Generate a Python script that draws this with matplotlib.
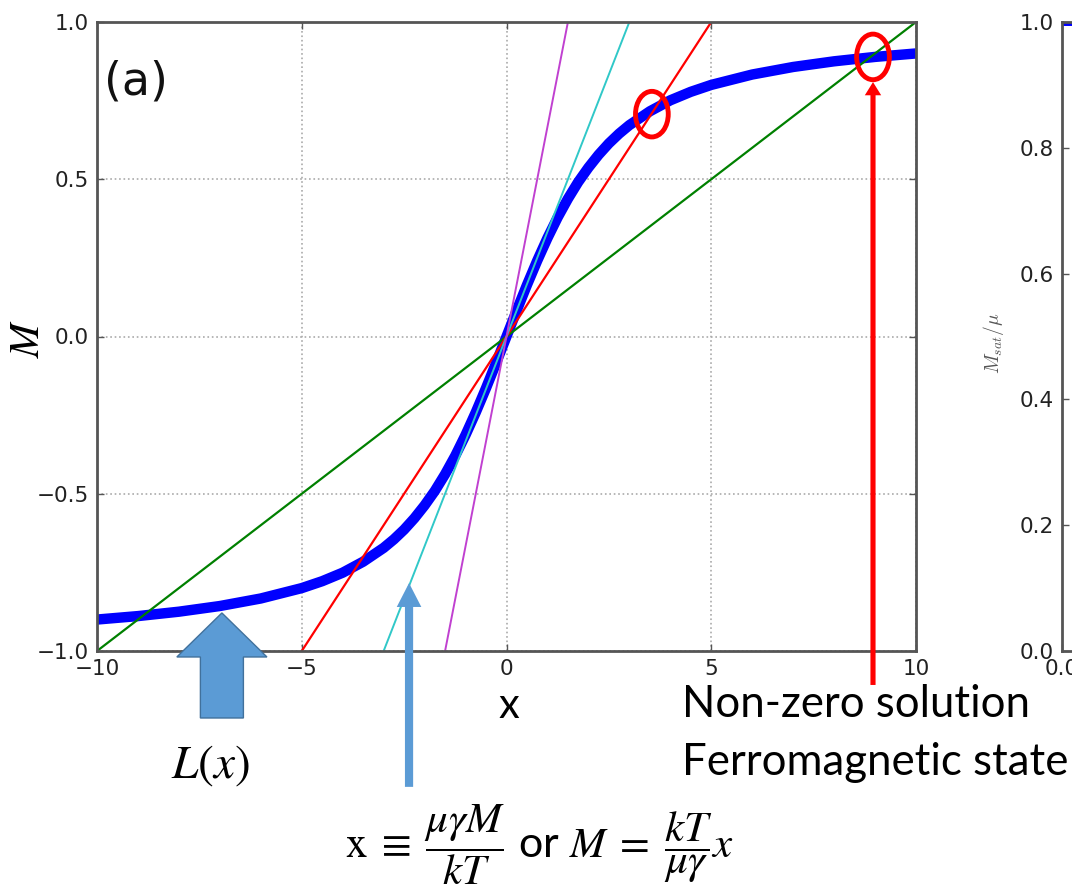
import matplotlib
matplotlib.use("Agg")
import matplotlib.pyplot as plt
from matplotlib.patches import Ellipse, FancyArrow
from matplotlib.ticker import FormatStrFormatter

# Langevin curve
x_curve = [-10, -9, -8, -7, -6, -5, -4.5, -4, -3.5, -3, -2.75, -2.5, -2.25, -2,
           -1.75, -1.5, -1.25, -1, -0.75, -0.5, -0.25, 0,
           0.25, 0.5, 0.75, 1, 1.25, 1.5, 1.75, 2, 2.25, 2.5, 2.75, 3, 3.5, 4,
           4.5, 5, 6, 7, 8, 9, 10]
L_curve = [-0.900, -0.889, -0.875, -0.857, -0.833, -0.800, -0.778, -0.751, -0.716,
           -0.672, -0.645, -0.614, -0.578, -0.537, -0.491, -0.438, -0.379, -0.313,
           -0.241, -0.164, -0.083, 0.0,
           0.083, 0.164, 0.241, 0.313, 0.379, 0.438, 0.491, 0.537, 0.578, 0.614,
           0.645, 0.672, 0.716, 0.751, 0.778, 0.800, 0.833, 0.857, 0.875, 0.889, 0.900]

# straight lines M = (kT/μγ) x for several temperatures
green_x = [-10, 10]
green_y = [-1, 1]
red_x = [-5, 5]
red_y = [-1, 1]
cyan_x = [-3, 3]
cyan_y = [-1, 1]
magenta_x = [-1.5, 1.5]
magenta_y = [-1, 1]

# intersections marked with red rings
sol_x = [3.55, 8.95]
sol_y = [0.707, 0.889]

# right-hand panel (mostly cut off)
t_sat = [0.0, 0.05, 0.1]
m_sat = [1.0, 1.0, 1.0]

x_ticks = [-10, -5, 0, 5, 10]
y_ticks = [-1.0, -0.5, 0.0, 0.5, 1.0]
y_ticks_sat = [0.0, 0.2, 0.4, 0.6, 0.8, 1.0]
x_ticks_sat = [0.0, 0.5, 1.0, 1.5, 2.0]

W, H = 1072, 886
SPINE = "#555555"
ARROW_BLUE = "#5B9BD5"


def px(x, y):
    return x / W, 1 - y / H


def style_axes(ax):
    for s in ax.spines.values():
        s.set_color(SPINE)
        s.set_linewidth(2)
    ax.tick_params(direction="in", length=5, width=1, color=SPINE,
                   labelsize=15.5, labelcolor="#222222", top=True, right=True, pad=6)


fig = plt.figure(figsize=(W / 100, H / 100), dpi=100)
ax = fig.add_axes([97 / W, 1 - 651 / H, 819 / W, 629 / H])
ax2 = fig.add_axes([1062 / W, 1 - 651 / H, 819 / W, 629 / H])

ax.plot(x_curve, L_curve, color="blue", lw=7.5, solid_capstyle="butt",
        solid_joinstyle="round")
ax.plot(green_x, green_y, color="#008000", lw=1.6)
ax.plot(red_x, red_y, color="red", lw=1.6)
ax.plot(cyan_x, cyan_y, color="#30c8c8", lw=1.4)
ax.plot(magenta_x, magenta_y, color="#c040d0", lw=1.4)
ax.set_xlim(-10, 10)
ax.set_ylim(-1, 1)
ax.set_xticks(x_ticks)
ax.set_yticks(y_ticks)
ax.grid(True, color="#aaaaaa", ls=":", lw=1.2)
style_axes(ax)

for sx, sy in zip(sol_x, sol_y):
    ax.add_patch(Ellipse((sx, sy), width=0.8, height=0.145, fill=False,
                         ec="red", lw=3.5, zorder=6, clip_on=False))

# arrows (tips in data coordinates, tails run below the axes)
ax.add_patch(FancyArrow(-6.95, -1.213, 0, 0.334, width=1.05, head_width=2.2,
                        head_length=0.14, length_includes_head=True,
                        fc=ARROW_BLUE, ec="#41719C", lw=1, zorder=7, clip_on=False))
ax.add_patch(FancyArrow(-2.38, -1.432, 0, 0.648, width=0.2, head_width=0.6,
                        head_length=0.076, length_includes_head=True,
                        fc=ARROW_BLUE, ec="none", zorder=7, clip_on=False))
ax.add_patch(FancyArrow(8.95, -1.108, 0, 1.917, width=0.125, head_width=0.4,
                        head_length=0.042, length_includes_head=True,
                        fc="red", ec="none", zorder=7, clip_on=False))

ax.text(0.008, 0.905, "(a)", transform=ax.transAxes, fontsize=33,
        ha="left", va="center", color="#111111")

# right panel
ax2.plot(t_sat, m_sat, color="blue", lw=5)
ax2.set_xlim(0, 2)
ax2.set_ylim(0, 1)
ax2.set_yticks(y_ticks_sat)
ax2.set_xticks(x_ticks_sat)
ax2.xaxis.set_major_formatter(FormatStrFormatter("%.1f"))
style_axes(ax2)
fig.text(*px(994, 343), r"$M_{sat}/\mu$", rotation=90, fontsize=14,
         ha="center", va="center", color="#555555", math_fontfamily="cm")

# labels and annotations added on top of the chart
fig.text(*px(27, 338), "$M$", rotation=90, fontsize=30, ha="center",
         va="center", math_fontfamily="stix")
fig.text(*px(509, 706), "x", fontsize=30, family="Lato", ha="center", va="center")
fig.text(*px(210, 765), "$L(x)$", fontsize=34, ha="center", va="center",
         math_fontfamily="stix")
fig.text(*px(682, 717), "Non-zero solution", fontsize=31.5, family="Lato",
         ha="left", va="baseline")
fig.text(*px(682, 775), "Ferromagnetic state", fontsize=31.5, family="Lato",
         ha="left", va="baseline")
fig.text(*px(539, 845),
         r"$\mathrm{x}\;\equiv\;\dfrac{\mu\gamma M}{kT}$ or $M\;=\;\dfrac{kT}{\mu\gamma}x$",
         fontsize=31, family="Lato", ha="center", va="center",
         math_fontfamily="stix")

fig.savefig("out.png", dpi=100, facecolor="white")
plt.close(fig)
